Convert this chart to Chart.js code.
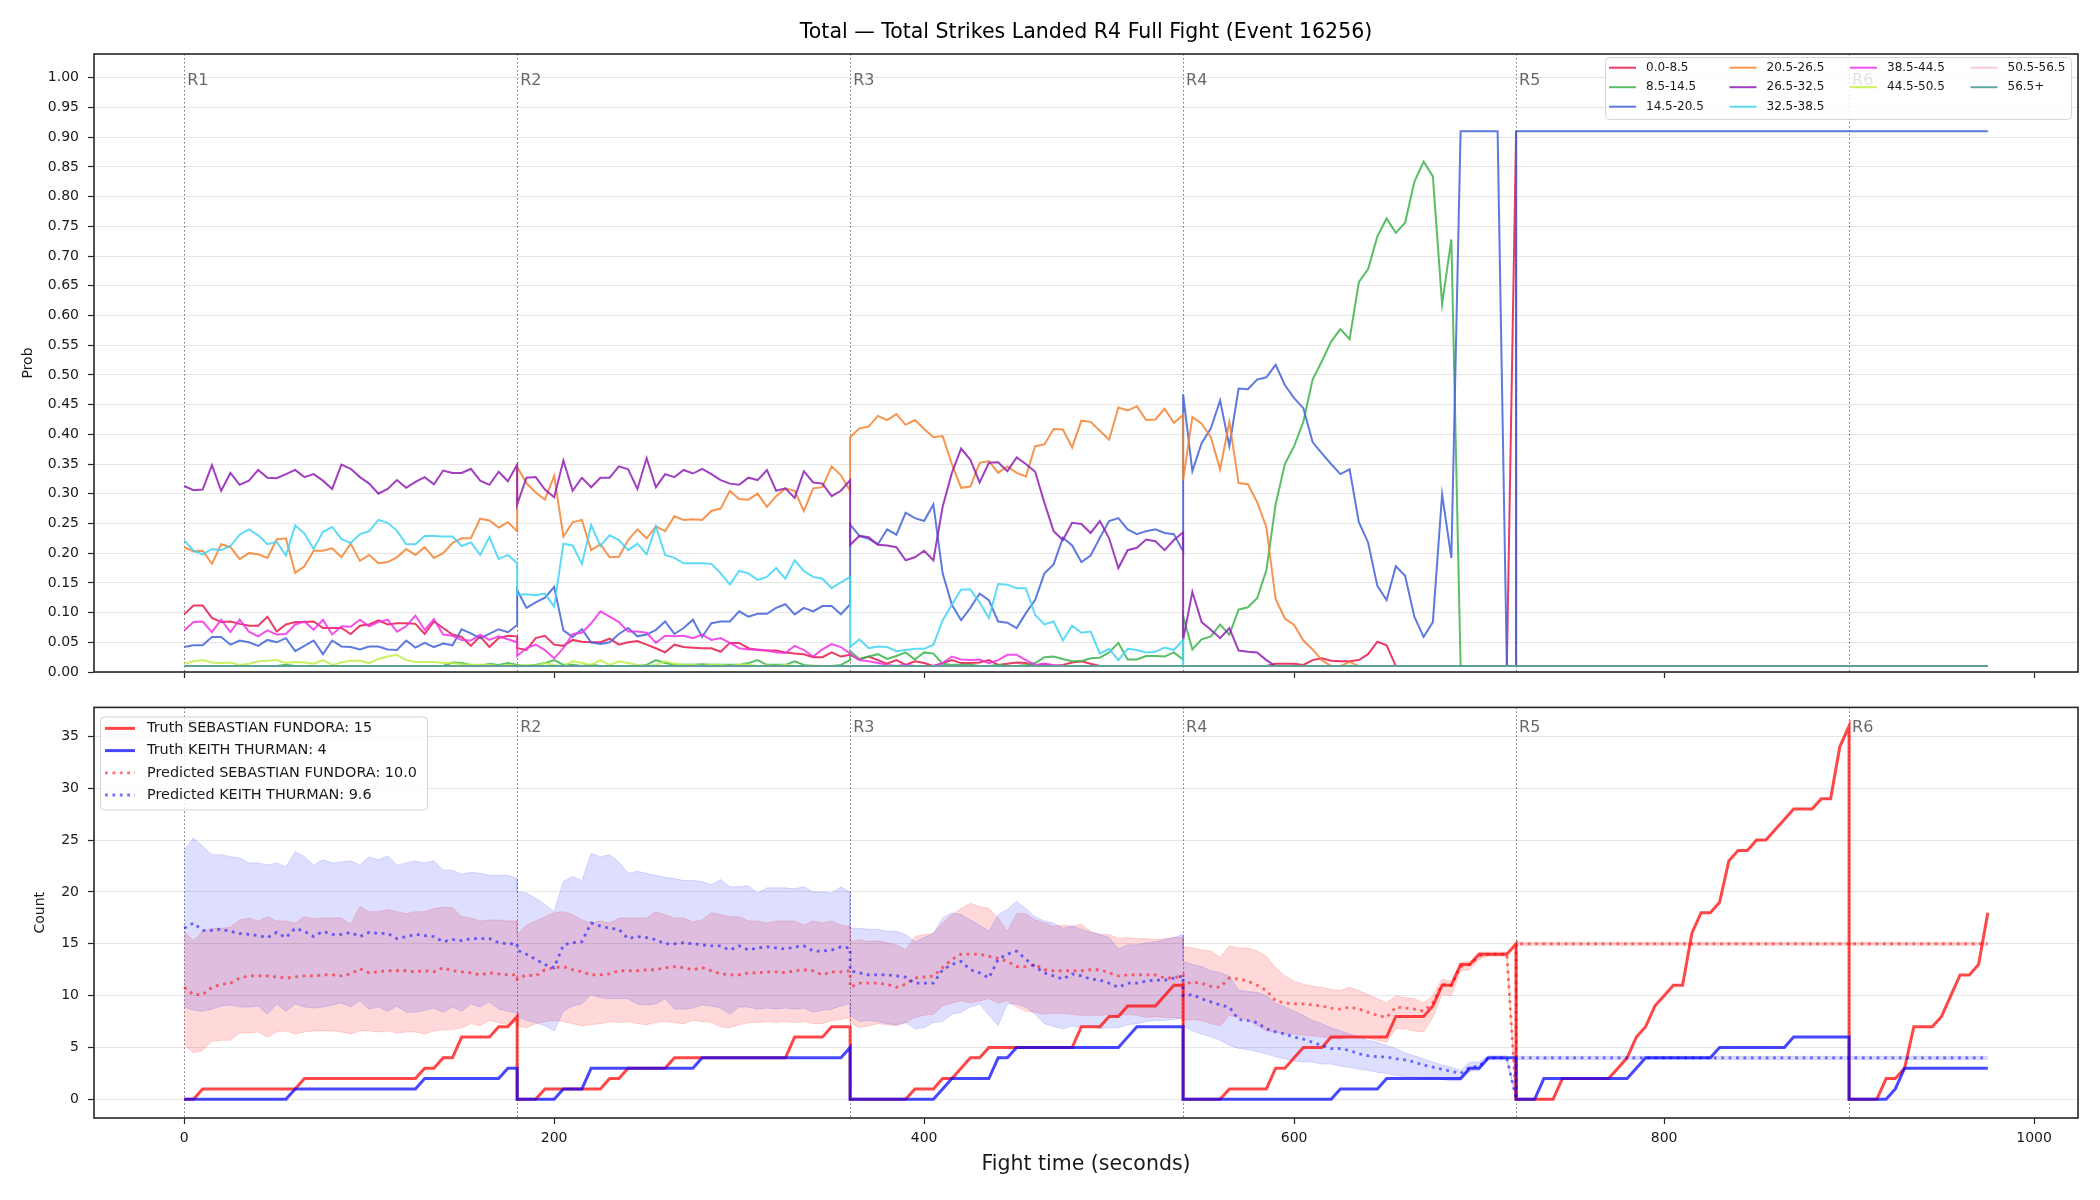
<!DOCTYPE html>
<html>
<head>
<meta charset="utf-8">
<script src="https://cdn.jsdelivr.net/npm/chart.js@4.4.1/dist/chart.umd.min.js"></script>
<style>
  html, body { margin: 0; padding: 0; background: #fff; }
  #wrap { position: relative; width: 2100px; height: 1200px; }
  #wrap canvas { position: absolute; left: 0; }
  #topChart { top: 0; }
  #bottomChart { top: 690px; }
</style>
</head>
<body>
<div id="wrap">
  <canvas id="topChart" width="2100" height="690"></canvas>
  <canvas id="bottomChart" width="2100" height="510"></canvas>
</div>
<script>
// ---- axes / rounds ----
const ROUND_STARTS = [0, 180, 360, 540, 720, 900];
const ROUND_LABELS = ['R1', 'R2', 'R3', 'R4', 'R5', 'R6'];
const STEP = 5;          // seconds between samples
const END_TIME = 975;    // last sample
const xTicks = [0, 200, 400, 600, 800, 1000];
const probTicks = [0.00, 0.05, 0.10, 0.15, 0.20, 0.25, 0.30, 0.35, 0.40, 0.45, 0.50,
                   0.55, 0.60, 0.65, 0.70, 0.75, 0.80, 0.85, 0.90, 0.95, 1.00];
const countTicks = [0, 5, 10, 15, 20, 25, 30, 35];

// ---- top panel: probability per bucket, rounds 1-4 (37 samples per round) ----
const buckets = ['0.0-8.5', '8.5-14.5', '14.5-20.5', '20.5-26.5', '26.5-32.5',
                 '32.5-38.5', '38.5-44.5', '44.5-50.5', '50.5-56.5', '56.5+'];
const bucketColors = ['rgba(230,25,75,0.85)', 'rgba(60,180,75,0.85)', 'rgba(67,99,216,0.85)',
                      'rgba(245,130,49,0.85)', 'rgba(145,30,180,0.85)', 'rgba(66,212,244,0.85)',
                      'rgba(240,50,230,0.85)', 'rgba(191,239,69,0.85)', 'rgba(250,190,212,0.85)',
                      'rgba(70,153,144,0.85)'];
// legend columns (matplotlib ncol=4 fills column by column)
const legendColumns = [[0, 1, 2], [3, 4, 5], [6, 7], [8, 9]];

const prob_0_8 = [
  [.097,.112,.112,.091,.084,.085,.081,.078,.078,.093,.068,.080,.084,.084,.085,.074,.074,.074,.064,.078,.080,.087,.080,.082,.082,.081,.064,.085,.074,.063,.059,.044,.060,.042,.057,.061,.060],
  [.040,.037,.057,.061,.046,.044,.054,.051,.050,.050,.056,.046,.050,.052,.046,.040,.033,.046,.042,.041,.040,.040,.034,.049,.049,.040,.037,.036,.036,.033,.031,.030,.025,.025,.033,.026,.029],
  [.029,.021,.026,.020,.014,.020,.012,.018,.015,.010,.015,.020,.015,.015,.016,.020,.012,.014,.016,.015,.010,.014,.010,.012,.016,.018,.014,.010,.010,.010,.010,.010,.010,.010,.010,.010,.010],
  [.010,.010,.010,.010,.010,.010,.010,.010,.010,.010,.014,.014,.014,.012,.020,.023,.019,.018,.018,.020,.030,.051,.045,.010,.010,.010,.010,.010,.010,.010,.010,.010,.010,.010,.010,.010,.910]
];
const prob_8_14 = [
  [.010,.010,.010,.010,.010,.010,.010,.010,.010,.010,.010,.012,.010,.010,.010,.010,.010,.010,.010,.010,.010,.010,.010,.010,.010,.010,.010,.010,.010,.016,.015,.012,.010,.014,.012,.015,.012],
  [.012,.010,.012,.015,.020,.012,.012,.010,.012,.010,.010,.010,.010,.010,.012,.020,.015,.012,.012,.012,.013,.012,.012,.012,.012,.015,.020,.012,.012,.012,.018,.012,.010,.010,.010,.012,.020],
  [.035,.022,.026,.030,.022,.027,.033,.021,.033,.031,.014,.012,.012,.012,.010,.010,.012,.010,.010,.012,.015,.025,.026,.022,.018,.018,.023,.024,.033,.049,.021,.021,.027,.027,.026,.033,.021],
  [.094,.038,.055,.060,.080,.063,.105,.109,.124,.171,.282,.350,.380,.421,.492,.523,.556,.577,.560,.656,.678,.733,.763,.739,.756,.825,.859,.834,.619,.728,.010,.010,.010,.010,.010,.010,.010]
];
const prob_14_20 = [
  [.042,.045,.045,.059,.059,.046,.053,.050,.044,.054,.050,.057,.035,.044,.053,.030,.053,.043,.042,.038,.043,.043,.038,.037,.053,.041,.049,.042,.048,.045,.072,.065,.057,.064,.072,.067,.079],
  [.138,.108,.117,.125,.143,.070,.059,.072,.050,.047,.050,.064,.074,.060,.063,.071,.085,.064,.074,.088,.059,.082,.085,.085,.102,.093,.098,.098,.108,.114,.097,.108,.102,.111,.111,.097,.114],
  [.248,.229,.224,.215,.240,.231,.268,.259,.254,.282,.166,.113,.087,.108,.132,.121,.085,.083,.074,.099,.121,.166,.181,.226,.213,.185,.196,.226,.254,.259,.240,.232,.237,.240,.234,.232,.203],
  [.467,.338,.385,.410,.457,.380,.477,.476,.492,.496,.517,.483,.461,.444,.387,.368,.350,.333,.341,.252,.218,.145,.121,.178,.162,.093,.059,.084,.299,.192,.910,.910,.910,.910,.910,.010,.010]
];
const prob_20_26 = [
  [.210,.203,.204,.182,.215,.210,.190,.200,.198,.192,.223,.225,.167,.178,.204,.204,.208,.193,.216,.187,.197,.183,.185,.193,.207,.197,.210,.192,.200,.217,.225,.225,.258,.255,.243,.252,.237],
  [.345,.318,.302,.290,.330,.228,.252,.256,.205,.215,.193,.194,.222,.240,.225,.245,.237,.262,.256,.257,.256,.271,.275,.305,.291,.290,.300,.278,.296,.309,.305,.271,.309,.311,.346,.331,.305],
  [.395,.410,.413,.431,.424,.434,.416,.424,.409,.395,.397,.350,.310,.312,.352,.355,.335,.346,.335,.329,.380,.383,.409,.408,.378,.423,.421,.406,.391,.445,.440,.447,.424,.425,.443,.419,.433],
  [.323,.429,.418,.395,.341,.421,.318,.316,.286,.244,.123,.090,.079,.053,.038,.020,.010,.010,.017,.010,.010,.010,.010,.010,.010,.010,.010,.010,.010,.010,.010,.010,.010,.010,.010,.010,.010]
];
const prob_26_32 = [
  [.313,.306,.307,.348,.305,.335,.315,.322,.340,.327,.326,.333,.340,.328,.333,.322,.308,.349,.342,.328,.317,.300,.308,.323,.310,.320,.328,.316,.339,.335,.335,.342,.322,.315,.337,.321,.349],
  [.282,.327,.328,.307,.294,.356,.305,.327,.311,.327,.327,.346,.341,.308,.360,.311,.333,.328,.340,.334,.342,.333,.323,.317,.315,.327,.323,.340,.305,.309,.293,.338,.319,.317,.296,.305,.323],
  [.214,.229,.227,.214,.213,.210,.188,.193,.204,.188,.278,.335,.376,.357,.319,.352,.353,.338,.361,.350,.337,.285,.237,.222,.251,.249,.234,.254,.225,.175,.205,.209,.223,.220,.205,.222,.235],
  [.054,.135,.084,.071,.057,.074,.036,.034,.033,.020,.010,.010,.010,.010,.010,.010,.010,.010,.010,.010,.010,.010,.010,.010,.010,.010,.010,.010,.010,.010,.010,.010,.010,.010,.010,.010,.010]
];
const prob_32_38 = [
  [.222,.204,.198,.207,.205,.212,.231,.240,.230,.215,.219,.196,.247,.233,.207,.236,.244,.224,.217,.232,.237,.256,.251,.238,.215,.215,.229,.229,.228,.228,.212,.218,.197,.227,.190,.197,.183],
  [.130,.131,.129,.132,.110,.216,.213,.182,.247,.212,.230,.222,.205,.216,.198,.245,.197,.192,.183,.183,.183,.182,.166,.147,.170,.166,.155,.160,.175,.157,.188,.170,.160,.157,.141,.151,.160],
  [.042,.055,.040,.043,.042,.035,.037,.039,.039,.046,.087,.113,.139,.139,.117,.091,.148,.147,.141,.141,.096,.080,.085,.053,.078,.066,.068,.031,.039,.020,.039,.037,.033,.034,.041,.037,.054],
  [.010,.010,.010,.010,.010,.010,.010,.010,.010,.010,.010,.010,.010,.010,.010,.010,.010,.010,.010,.010,.010,.010,.010,.010,.010,.010,.010,.010,.010,.010,.010,.010,.010,.010,.010,.010,.010]
];
const prob_38_44 = [
  [.070,.084,.085,.067,.088,.067,.088,.068,.060,.070,.063,.064,.080,.085,.071,.088,.063,.077,.076,.088,.077,.084,.088,.068,.077,.095,.071,.089,.063,.061,.054,.053,.063,.054,.060,.055,.050],
  [.027,.040,.046,.037,.023,.040,.064,.066,.082,.102,.093,.084,.068,.068,.066,.049,.061,.060,.061,.057,.063,.054,.057,.049,.040,.038,.038,.036,.033,.032,.044,.037,.026,.038,.047,.042,.031],
  [.030,.020,.018,.015,.012,.010,.012,.010,.010,.010,.015,.026,.021,.020,.021,.015,.020,.029,.029,.020,.012,.014,.012,.010,.010,.010,.010,.010,.010,.010,.010,.010,.010,.010,.010,.010,.010],
  [.010,.010,.010,.010,.010,.010,.010,.010,.010,.010,.010,.010,.010,.010,.010,.010,.010,.010,.010,.010,.010,.010,.010,.010,.010,.010,.010,.010,.010,.010,.010,.010,.010,.010,.010,.010,.010]
];
const prob_44_50 = [
  [.014,.018,.020,.016,.015,.016,.012,.014,.018,.019,.020,.015,.017,.016,.014,.020,.012,.016,.019,.019,.015,.022,.026,.029,.020,.017,.017,.017,.015,.015,.013,.012,.012,.012,.010,.012,.010],
  [.010,.012,.010,.015,.012,.010,.018,.015,.012,.020,.012,.018,.015,.012,.010,.012,.018,.014,.012,.012,.010,.012,.012,.010,.012,.012,.010,.011,.010,.012,.010,.010,.011,.010,.010,.010,.010],
  [.010,.010,.010,.010,.010,.010,.010,.010,.010,.010,.010,.010,.010,.010,.010,.010,.010,.010,.010,.010,.010,.010,.010,.010,.010,.010,.010,.010,.010,.010,.010,.010,.010,.010,.010,.010,.010],
  [.010,.010,.010,.010,.010,.010,.010,.010,.010,.010,.010,.010,.010,.010,.010,.010,.010,.010,.010,.010,.010,.010,.010,.010,.010,.010,.010,.010,.010,.010,.010,.010,.010,.010,.010,.010,.010]
];
const prob_50_56 = [
  [.010,.010,.010,.010,.010,.010,.010,.010,.010,.010,.010,.010,.010,.010,.010,.010,.010,.010,.010,.010,.010,.010,.010,.010,.010,.010,.010,.010,.010,.010,.010,.010,.010,.010,.010,.010,.010],
  [.010,.010,.010,.010,.010,.010,.010,.010,.010,.010,.010,.010,.010,.010,.010,.010,.010,.010,.010,.010,.010,.010,.010,.010,.010,.010,.010,.010,.010,.010,.010,.010,.010,.010,.010,.010,.010],
  [.010,.010,.010,.010,.010,.010,.010,.010,.010,.010,.010,.010,.010,.010,.010,.010,.010,.010,.010,.010,.010,.010,.010,.010,.010,.010,.010,.010,.010,.010,.010,.010,.010,.010,.010,.010,.010],
  [.010,.010,.010,.010,.010,.010,.010,.010,.010,.010,.010,.010,.010,.010,.010,.010,.010,.010,.010,.010,.010,.010,.010,.010,.010,.010,.010,.010,.010,.010,.010,.010,.010,.010,.010,.010,.010]
];
const prob_56_up = [
  [.010,.010,.010,.010,.010,.010,.010,.010,.010,.010,.010,.010,.010,.010,.010,.010,.010,.010,.010,.010,.010,.010,.010,.010,.010,.010,.010,.010,.010,.010,.010,.010,.010,.010,.010,.010,.010],
  [.010,.010,.010,.010,.010,.010,.010,.010,.010,.010,.010,.010,.010,.010,.010,.010,.010,.010,.010,.010,.010,.010,.010,.010,.010,.010,.010,.010,.010,.010,.010,.010,.010,.010,.010,.010,.010],
  [.010,.010,.010,.010,.010,.010,.010,.010,.010,.010,.010,.010,.010,.010,.010,.010,.010,.010,.010,.010,.010,.010,.010,.010,.010,.010,.010,.010,.010,.010,.010,.010,.010,.010,.010,.010,.010],
  [.010,.010,.010,.010,.010,.010,.010,.010,.010,.010,.010,.010,.010,.010,.010,.010,.010,.010,.010,.010,.010,.010,.010,.010,.010,.010,.010,.010,.010,.010,.010,.010,.010,.010,.010,.010,.010]
];
// from R5 on every bucket stays flat until the end
const probFromR5 = [.010, .010, .910, .010, .010, .010, .010, .010, .010, .010];

// ---- bottom panel: counts ----
const fighters = ['SEBASTIAN FUNDORA', 'KEITH THURMAN'];
const truthFinal = [15, 4];
const predFinal = ['10.0', '9.6'];

const truthFundora = [
  [0,0,1,1,1,1,1,1,1,1,1,1,1,2,2,2,2,2,2,2,2,2,2,2,2,2,3,3,4,4,6,6,6,6,7,7,8],
  [0,0,0,1,1,1,1,1,1,1,2,2,3,3,3,3,3,4,4,4,4,4,4,4,4,4,4,4,4,4,6,6,6,6,7,7,7],
  [0,0,0,0,0,0,0,1,1,1,2,2,3,4,4,5,5,5,5,5,5,5,5,5,5,7,7,7,8,8,9,9,9,9,10,11,11],
  [0,0,0,0,0,1,1,1,1,1,3,3,4,5,5,5,6,6,6,6,6,6,6,8,8,8,8,9,11,11,13,13,14,14,14,14,15],
  [0,0,0,0,0,2,2,2,2,2,2,3,4,6,7,9,10,11,11,16,18,18,19,23,24,24,25,25,26,27,28,28,28,29,29,34,36],
  [0,0,0,0,2,2,3,7,7,7,8,10,12,12,13,18]
];
const truthThurman = [
  [0,0,0,0,0,0,0,0,0,0,0,0,1,1,1,1,1,1,1,1,1,1,1,1,1,1,2,2,2,2,2,2,2,2,2,3,3],
  [0,0,0,0,0,1,1,1,3,3,3,3,3,3,3,3,3,3,3,3,4,4,4,4,4,4,4,4,4,4,4,4,4,4,4,4,5],
  [0,0,0,0,0,0,0,0,0,0,1,2,2,2,2,2,4,4,5,5,5,5,5,5,5,5,5,5,5,5,6,7,7,7,7,7,7],
  [0,0,0,0,0,0,0,0,0,0,0,0,0,0,0,0,0,1,1,1,1,1,2,2,2,2,2,2,2,2,2,3,3,4,4,4,4],
  [0,0,0,2,2,2,2,2,2,2,2,2,2,3,4,4,4,4,4,4,4,4,5,5,5,5,5,5,5,5,6,6,6,6,6,6,6],
  [0,0,0,0,0,1,3,3,3,3,3,3,3,3,3,3]
];

const predFundora = [
  [10.8,10.1,10.1,10.8,11.1,11.2,11.7,11.9,11.9,11.9,11.8,11.7,11.8,11.9,11.9,12.0,12.0,11.9,12.1,12.6,12.2,12.3,12.4,12.4,12.4,12.3,12.4,12.3,12.7,12.4,12.3,12.2,12.0,12.2,12.1,12.0,12.0],
  [11.6,12.0,11.9,12.5,12.7,12.8,12.5,12.3,12.0,12.0,12.1,12.4,12.4,12.4,12.5,12.5,12.7,12.8,12.7,12.5,12.7,12.4,12.1,12.0,12.0,12.2,12.2,12.3,12.3,12.2,12.4,12.5,12.4,12.0,12.3,12.3,12.4],
  [10.8,11.2,11.2,11.2,11.1,10.8,11.1,11.7,11.8,11.9,12.7,13.5,14.0,14.0,14.0,13.8,13.6,13.3,12.8,12.8,13.0,12.5,12.4,12.4,12.4,12.4,12.5,12.5,12.2,11.9,12.0,12.0,12.0,12.0,11.7,11.7,12.0],
  [11.1,11.3,11.2,10.9,10.8,11.7,11.6,11.4,11.0,10.5,9.5,9.3,9.2,9.2,9.1,9.0,8.8,8.7,8.9,8.7,8.4,8.1,7.9,8.9,8.8,8.7,8.5,9.3,11.1,11.0,12.8,13.0,13.8,14.0,14.0,14.0,0]
];
const predThurman = [
  [16.5,17.0,16.3,16.3,16.4,16.2,16.0,15.9,15.8,15.6,16.1,15.6,16.5,16.2,15.7,16.2,15.9,15.9,16.1,15.7,16.1,16.0,16.0,15.5,15.7,15.9,15.8,15.7,15.2,15.4,15.3,15.5,15.5,15.5,15.1,15.0,15.0],
  [14.4,14.0,13.5,13.0,12.7,14.9,15.1,15.2,17.0,16.7,16.5,16.4,15.5,15.7,15.6,15.4,15.0,15.0,15.1,15.0,14.9,14.8,14.8,14.4,14.8,14.4,14.6,14.7,14.6,14.5,14.7,14.8,14.3,14.3,14.4,14.7,14.6],
  [12.4,12.2,12.0,12.0,12.0,11.9,11.8,11.2,11.2,11.2,12.5,13.0,13.3,12.5,12.2,11.7,13.5,14.0,14.3,13.5,12.8,12.2,11.9,11.6,12.1,11.9,11.6,11.5,11.2,10.8,11.2,11.2,11.4,11.5,11.5,11.7,11.9],
  [10.0,10.1,9.7,9.4,9.1,8.9,7.7,7.6,7.4,6.8,6.5,6.3,6.0,5.8,5.5,5.2,4.9,4.9,4.7,4.4,4.2,4.1,4.1,3.9,3.8,3.6,3.3,3.1,2.9,2.7,2.5,3.1,3.2,4.0,4.0,4.0,0]
];
const bandFundoraHigh = [
  [16.2,15.3,16.2,16.5,16.5,16.6,17.3,17.5,17.2,17.6,17.2,17.2,17.0,17.6,17.4,17.5,17.5,17.5,16.9,18.6,18.1,18.1,18.3,18.1,17.9,18.1,18.1,18.4,18.5,18.5,17.6,17.5,17.2,17.3,17.3,17.2,17.2],
  [15.9,16.8,17.2,17.6,18.0,18.1,17.8,17.3,17.0,17.2,17.0,17.5,17.5,17.5,17.5,18.1,17.8,17.5,17.5,17.1,17.3,18.0,17.8,17.6,17.6,17.2,17.2,17.0,17.2,17.2,17.2,16.8,17.2,17.0,17.2,16.8,16.7],
  [15.2,15.4,15.2,15.3,15.1,14.9,14.4,15.7,15.9,16.0,17.0,17.8,18.4,18.9,18.6,18.4,17.5,16.2,17.9,17.9,17.3,17.0,16.7,16.8,16.7,16.9,16.2,15.9,15.9,15.5,15.6,15.5,15.5,15.4,15.5,15.6,15.6],
  [14.7,14.6,14.4,14.3,13.7,14.8,14.6,14.6,14.3,13.8,12.7,11.9,11.4,11.1,10.9,10.8,10.6,10.5,10.8,10.5,10.1,9.7,9.3,10.0,9.8,9.7,9.3,10.0,11.6,11.4,13.2,13.3,14.2,14.2,14.2,14.2,0]
];
const bandFundoraLow = [
  [5.3,4.5,4.7,5.6,5.7,5.7,6.4,6.4,6.5,6.0,6.5,6.6,6.3,6.5,6.6,6.6,6.6,6.5,6.3,6.6,6.6,6.5,6.6,6.4,6.5,6.5,6.3,6.6,6.7,6.7,6.9,7.3,7.1,7.6,7.4,7.2,7.6],
  [7.1,6.9,7.3,7.5,7.6,7.5,7.3,7.1,7.2,7.3,7.5,7.4,7.5,7.3,7.2,7.4,7.5,7.4,7.3,7.6,7.5,7.4,7.0,6.9,7.2,7.4,7.4,7.5,7.4,7.5,7.4,7.5,7.3,7.3,7.6,7.7,7.9],
  [7.4,6.9,7.1,7.3,7.2,7.1,7.4,7.9,8.1,8.2,9.0,9.3,9.5,9.3,9.5,9.7,9.3,9.5,8.9,8.5,8.4,8.2,8.3,8.3,8.2,8.1,8.1,8.1,8.2,8.1,8.2,8.1,7.9,8.0,7.9,7.9,7.7],
  [7.6,7.7,7.6,7.3,7.1,8.1,7.9,7.7,7.1,6.6,6.5,6.3,6.3,6.2,6.1,6.0,5.9,5.8,6.1,6.0,5.9,5.7,5.5,6.8,6.8,6.6,6.5,7.9,10.1,10.0,12.4,12.5,13.5,13.8,13.8,13.8,0]
];
const bandThurmanHigh = [
  [24.0,25.2,24.4,23.6,23.6,23.4,23.3,22.8,22.8,22.6,22.8,22.4,23.9,23.4,22.6,23.1,22.8,22.9,23.0,22.6,23.4,23.1,23.5,22.6,22.8,23.0,22.8,23.0,22.1,22.1,21.7,21.9,21.8,21.6,21.6,21.6,21.3],
  [20.0,19.9,19.4,18.8,18.1,21.0,21.5,21.1,23.7,23.4,23.6,22.9,21.8,22.0,21.8,21.6,21.4,21.3,21.1,21.1,21.0,20.7,21.2,20.5,20.5,20.6,19.9,20.4,20.4,20.4,20.3,20.5,20.0,20.0,19.9,20.5,20.0],
  [16.5,16.5,16.4,16.4,16.2,16.2,15.9,15.2,15.6,16.0,17.5,18.0,17.8,17.3,16.8,16.2,17.8,18.3,19.1,18.4,17.6,17.2,17.0,16.5,16.7,16.4,16.1,15.9,15.6,14.5,14.9,14.9,15.1,15.2,15.4,15.6,15.9],
  [13.3,13.0,12.8,12.4,12.2,11.9,10.5,10.4,10.3,10.0,9.3,8.9,8.5,8.1,7.6,7.3,6.9,6.6,6.3,6.0,5.7,5.5,5.2,4.9,4.5,4.2,3.9,3.6,3.3,3.1,2.8,3.6,3.6,4.2,4.2,4.2,0]
];
const bandThurmanLow = [
  [8.9,8.6,8.5,8.7,9.0,9.1,8.9,8.9,9.0,8.2,9.2,8.5,9.2,8.9,8.8,8.9,9.1,9.3,8.9,9.5,8.7,8.9,8.5,9.0,8.4,8.4,8.6,8.8,8.4,8.9,8.5,9.2,8.9,9.4,8.7,8.5,8.3],
  [8.0,7.6,7.4,7.1,6.6,8.5,9.0,9.2,10.1,9.8,9.7,9.7,9.7,9.2,9.1,9.2,9.7,8.7,8.7,8.8,9.1,9.0,8.8,8.2,8.9,8.9,8.7,8.8,8.7,8.8,8.7,8.8,8.4,8.6,8.7,9.0,9.3],
  [8.1,7.5,7.6,7.5,7.3,7.2,7.4,6.8,6.9,7.4,7.5,8.2,8.4,8.9,9.2,8.1,7.1,9.2,9.2,8.9,8.2,7.3,7.0,6.8,7.1,6.9,7.1,6.8,6.9,6.9,7.2,7.3,7.5,7.6,7.6,7.7,7.9],
  [7.1,6.6,6.3,6.0,5.7,5.2,4.9,4.8,4.6,4.4,4.1,3.9,3.7,3.6,3.6,3.4,3.4,3.2,3.1,2.9,2.8,2.6,2.5,2.3,2.2,2.1,2.0,2.0,1.9,1.8,1.8,2.7,2.8,3.8,3.8,3.8,0]
];
// after R4 the prediction is frozen: [prediction, band low, band high]
const frozenFundora = [15, 14.85, 15.15];
const frozenThurman = [4, 3.85, 4.15];

// ---- helpers ----
function roundPoints(rounds) {
  const pts = [];
  rounds.forEach((vals, r) => {
    vals.forEach((v, i) => pts.push({ x: ROUND_STARTS[r] + i * STEP, y: v }));
  });
  return pts;
}
function withTail(rounds, v) {
  return roundPoints(rounds).concat([{ x: ROUND_STARTS[4], y: v }, { x: END_TIME, y: v }]);
}

const FONT = '"DejaVu Sans", sans-serif';
Chart.defaults.font.family = FONT;
Chart.defaults.color = '#1a1a1a';

function legendFrame(ctx, x, y, w, h) {
  ctx.beginPath();
  ctx.roundRect(x, y, w, h, 4);
  ctx.fillStyle = 'rgba(255,255,255,0.8)';
  ctx.fill();
  ctx.strokeStyle = 'rgba(204,204,204,0.8)';
  ctx.lineWidth = 1;
  ctx.stroke();
}

// dotted round separators + R labels
const roundMarks = {
  id: 'roundMarks',
  beforeDatasetsDraw(chart) {
    const { ctx, chartArea: a, scales: { x } } = chart;
    ctx.save();
    ctx.strokeStyle = 'rgba(90,90,90,0.85)';
    ctx.lineWidth = 1;
    ctx.setLineDash([1.5, 2.5]);
    ROUND_STARTS.forEach(t => {
      const px = Math.round(x.getPixelForValue(t)) + 0.5;
      ctx.beginPath(); ctx.moveTo(px, a.top); ctx.lineTo(px, a.bottom); ctx.stroke();
    });
    ctx.setLineDash([]);
    ctx.fillStyle = 'rgba(0,0,0,0.6)';
    ctx.font = '16px ' + FONT;
    ctx.textBaseline = 'alphabetic';
    const y = a.top + 0.03 * (a.bottom - a.top) + 12.5;
    ROUND_STARTS.forEach((t, i) => ctx.fillText(ROUND_LABELS[i], x.getPixelForValue(t) + 3, y));
    ctx.restore();
  }
};

// full box around the plot area
const frame = {
  id: 'frame',
  afterDatasetsDraw(chart) {
    const { ctx, chartArea: a } = chart;
    ctx.save();
    ctx.strokeStyle = '#262626';
    ctx.lineWidth = 1.6;
    ctx.strokeRect(a.left, a.top, a.right - a.left, a.bottom - a.top);
    ctx.restore();
  }
};

const topTitle = {
  id: 'topTitle',
  afterDraw(chart) {
    const { ctx, chartArea: a } = chart;
    ctx.save();
    ctx.font = '20.5px ' + FONT;
    ctx.fillStyle = '#000';
    ctx.textAlign = 'center';
    ctx.textBaseline = 'middle';
    ctx.fillText('Total \u2014 Total Strikes Landed R4 Full Fight (Event 16256)', (a.left + a.right) / 2, 33);
    ctx.restore();
  }
};

// 4-column legend, filled column by column
const bucketLegend = {
  id: 'bucketLegend',
  afterDraw(chart) {
    const { ctx, chartArea: a } = chart;
    const left = a.right - 473, top = a.top + 3;
    const sets = chart.data.datasets;
    ctx.save();
    legendFrame(ctx, left + 0.5, top + 0.5, 466, 62);
    ctx.font = '12px ' + FONT;
    ctx.textBaseline = 'middle';
    legendColumns.forEach((col, c) => {
      col.forEach((k, row) => {
        const ds = sets[k];
        const x0 = left + 4 + c * 120.5, y0 = top + 10.7 + row * 19.5;
        ctx.strokeStyle = ds.borderColor;
        ctx.lineWidth = 2;
        ctx.beginPath(); ctx.moveTo(x0, y0); ctx.lineTo(x0 + 27, y0); ctx.stroke();
        ctx.fillStyle = '#1a1a1a';
        ctx.fillText(ds.label, x0 + 37, y0);
      });
    });
    ctx.restore();
  }
};

const countLegend = {
  id: 'countLegend',
  afterDraw(chart) {
    const { ctx, chartArea: a } = chart;
    const left = a.left + 6, top = a.top + 9;
    const items = chart.data.datasets.filter(d => d.inLegend);
    ctx.save();
    legendFrame(ctx, left + 0.5, top + 0.5, 327, 93);
    ctx.font = '14.4px ' + FONT;
    ctx.textBaseline = 'middle';
    items.forEach((ds, i) => {
      const y0 = top + 12 + i * 22.2;
      ctx.strokeStyle = ds.borderColor;
      ctx.lineWidth = ds.borderWidth;
      ctx.setLineDash(ds.borderDash || []);
      ctx.beginPath(); ctx.moveTo(left + 5, y0); ctx.lineTo(left + 35, y0); ctx.stroke();
      ctx.setLineDash([]);
      ctx.fillStyle = '#1a1a1a';
      ctx.fillText(ds.label, left + 47, y0);
    });
    ctx.restore();
  }
};

const xMin = -48.75, xMax = 1023.75;

// ---- top chart ----
const topSeries = [prob_0_8, prob_8_14, prob_14_20, prob_20_26, prob_26_32,
                   prob_32_38, prob_38_44, prob_44_50, prob_50_56, prob_56_up];

new Chart(document.getElementById('topChart'), {
  type: 'line',
  data: {
    datasets: buckets.map((b, k) => ({
      label: b,
      data: withTail(topSeries[k], probFromR5[k]),
      borderColor: bucketColors[k],
      borderWidth: 2,
      pointRadius: 0,
      tension: 0,
      fill: false,
      order: -k
    }))
  },
  options: {
    responsive: false,
    animation: false,
    events: [],
    layout: { padding: { top: 54, right: 22, left: 0, bottom: 0 } },
    plugins: { legend: { display: false }, tooltip: { enabled: false }, title: { display: false } },
    scales: {
      x: {
        type: 'linear', min: xMin, max: xMax,
        afterBuildTicks: s => { s.ticks = xTicks.map(v => ({ value: v })); },
        afterFit: s => { s.height = 18; },
        ticks: { display: false },
        grid: { drawOnChartArea: false, tickLength: 6, tickColor: '#262626', tickWidth: 1.2 },
        border: { display: false }
      },
      y: {
        min: 0, max: 1.04,
        afterBuildTicks: s => { s.ticks = probTicks.map(v => ({ value: v })); },
        afterFit: s => { s.width = 94; },
        ticks: { font: { size: 14 }, color: '#1a1a1a', padding: 9, callback: v => v.toFixed(2) },
        grid: { color: '#e6e6e6', lineWidth: 1, tickColor: '#262626', tickLength: 6, tickWidth: 1.2 },
        border: { display: false },
        title: { display: true, text: 'Prob', font: { size: 14 }, color: '#1a1a1a', padding: { top: 20, bottom: 0 } }
      }
    }
  },
  plugins: [roundMarks, frame, topTitle, bucketLegend]
});

// ---- bottom chart ----
const dotted = [2.8, 4.6];
new Chart(document.getElementById('bottomChart'), {
  type: 'line',
  data: {
    datasets: [
      { label: 'band ' + fighters[0] + ' high', data: withTail(bandFundoraHigh, frozenFundora[2]),
        borderColor: 'rgba(255,0,0,0.15)', borderWidth: 1, backgroundColor: 'rgba(255,0,0,0.15)',
        fill: '+1', pointRadius: 0, tension: 0, order: 10 },
      { label: 'band ' + fighters[0] + ' low', data: withTail(bandFundoraLow, frozenFundora[1]),
        borderColor: 'rgba(255,0,0,0.15)', borderWidth: 1, fill: false, pointRadius: 0, tension: 0, order: 10 },
      { label: 'band ' + fighters[1] + ' high', data: withTail(bandThurmanHigh, frozenThurman[2]),
        borderColor: 'rgba(0,0,255,0.13)', borderWidth: 1, backgroundColor: 'rgba(0,0,255,0.13)',
        fill: '+1', pointRadius: 0, tension: 0, order: 9 },
      { label: 'band ' + fighters[1] + ' low', data: withTail(bandThurmanLow, frozenThurman[1]),
        borderColor: 'rgba(0,0,255,0.13)', borderWidth: 1, fill: false, pointRadius: 0, tension: 0, order: 9 },
      { label: 'Truth ' + fighters[0] + ': ' + truthFinal[0], inLegend: true,
        data: roundPoints(truthFundora), borderColor: 'rgba(255,0,0,0.72)', borderWidth: 3,
        fill: false, pointRadius: 0, tension: 0, order: 4 },
      { label: 'Truth ' + fighters[1] + ': ' + truthFinal[1], inLegend: true,
        data: roundPoints(truthThurman), borderColor: 'rgba(0,0,255,0.72)', borderWidth: 3,
        fill: false, pointRadius: 0, tension: 0, order: 3 },
      { label: 'Predicted ' + fighters[0] + ': ' + predFinal[0], inLegend: true,
        data: withTail(predFundora, frozenFundora[0]), borderColor: 'rgba(255,0,0,0.55)', borderWidth: 2.8,
        borderDash: dotted, fill: false, pointRadius: 0, tension: 0, order: 2 },
      { label: 'Predicted ' + fighters[1] + ': ' + predFinal[1], inLegend: true,
        data: withTail(predThurman, frozenThurman[0]), borderColor: 'rgba(0,0,255,0.55)', borderWidth: 2.8,
        borderDash: dotted, fill: false, pointRadius: 0, tension: 0, order: 1 }
    ]
  },
  options: {
    responsive: false,
    animation: false,
    events: [],
    layout: { padding: { top: 13, right: 22, left: 0, bottom: 0 } },
    plugins: { legend: { display: false }, tooltip: { enabled: false }, title: { display: false } },
    scales: {
      x: {
        type: 'linear', min: xMin, max: xMax,
        afterBuildTicks: s => { s.ticks = xTicks.map(v => ({ value: v })); },
        afterFit: s => { s.height = 82; },
        ticks: { font: { size: 14 }, color: '#1a1a1a', padding: 6, maxRotation: 0, callback: v => String(v) },
        grid: { drawOnChartArea: false, tickLength: 6, tickColor: '#262626', tickWidth: 1.2 },
        border: { display: false },
        title: { display: true, text: 'Fight time (seconds)', font: { size: 20.5 }, color: '#1a1a1a',
                 padding: { top: 0, bottom: 22.7 } }
      },
      y: {
        min: -1.8, max: 37.8,
        afterBuildTicks: s => { s.ticks = countTicks.map(v => ({ value: v })); },
        afterFit: s => { s.width = 94; },
        ticks: { font: { size: 14 }, color: '#1a1a1a', padding: 9 },
        grid: { color: '#e6e6e6', lineWidth: 1, tickColor: '#262626', tickLength: 6, tickWidth: 1.2 },
        border: { display: false },
        title: { display: true, text: 'Count', font: { size: 14 }, color: '#1a1a1a', padding: { top: 32, bottom: 0 } }
      }
    }
  },
  plugins: [roundMarks, frame, countLegend]
});
</script>
</body>
</html>
